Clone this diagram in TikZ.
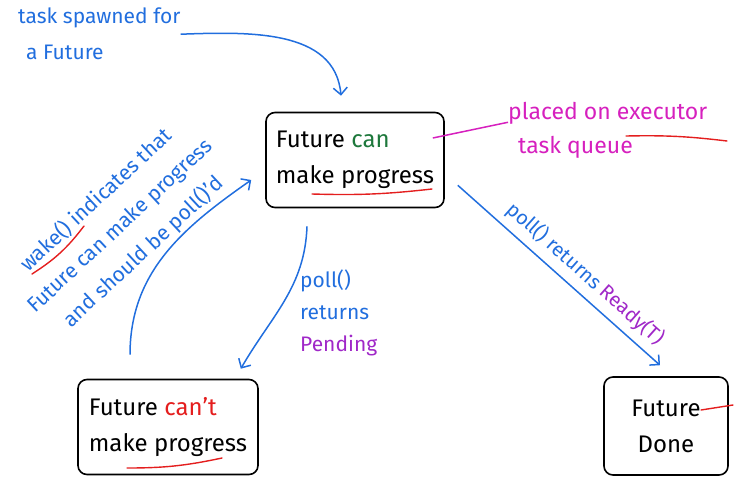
\documentclass[tikz,border=0pt]{standalone}
\usepackage{fontspec}
\setmainfont{Fira Sans}
\usetikzlibrary{positioning,arrows.meta,calc}
\definecolor{penblue}{RGB}{33,110,222}
\definecolor{penpink}{RGB}{214,32,190}
\definecolor{penpurple}{RGB}{160,40,200}
\definecolor{pengreen}{RGB}{30,120,60}
\definecolor{penred}{RGB}{228,30,30}

\begin{document}
\begin{tikzpicture}[x=1pt,y=-1pt]
          \tikzset{StateBox/.style={draw=black, line width=1.6pt, rounded corners=9pt, align=left, inner sep=0pt, font=\fontsize{24}{36}\selectfont}}
          \tikzset{Note/.style={text=penblue, align=left, inner sep=0pt, font=\fontsize{21}{35}\selectfont}}
          \tikzset{PenArrow/.style={draw=penblue, line width=1.5pt, -{Straight Barb[length=7pt,width=14pt]}}}
          \tikzset{RedMark/.style={draw=penred, line width=1.4pt, line cap=round}}

          \useasboundingbox (0,0) rectangle (752,488);

          \node[StateBox, minimum width=178pt, minimum height=95pt] (can) at (355,160) {Future \textcolor{pengreen}{can}\\make progress};
          \node[StateBox, minimum width=180pt, minimum height=95pt] (cant) at (168,427) {Future \textcolor{penred}{can't}\\make progress};
          \node[StateBox, align=center, minimum width=124pt, minimum height=98pt] (done) at (666,426) {Future\\Done};

          \node[Note, anchor=north west, font=\fontsize{21}{36}\selectfont] (spawn) at (18,8) {task spawned for\\\hspace*{8pt}a Future};
          \node[Note, text=penpink, anchor=north west, font=\fontsize{23}{34}\selectfont] (queue) at (508,102) {placed on executor\\\hspace*{10pt}task queue};
          \node[Note, rotate=43, align=center] (wake) at (120,226) {wake() indicates that\\Future can make progress\\and should be poll()'d};
          \node[Note, anchor=west, font=\fontsize{21}{32}\selectfont] (pend) at (300,313) {poll()\\returns\\\textcolor{penpurple}{Pending}};

          \draw[PenArrow] (spawn.east) to[out=2, in=95] ([xshift=-14pt, yshift=16pt]can.north);
          \draw[PenArrow] ([xshift=-48pt, yshift=-18pt]can.south) to[out=-92, in=60] ([xshift=-18pt, yshift=10pt]cant.north east);
          \draw[PenArrow] ([xshift=-38pt, yshift=24pt]cant.north) to[out=90, in=215] ([xshift=-14pt, yshift=-20pt]can.west);
          \draw[PenArrow] ([xshift=13pt, yshift=23pt]can.south east) -- node[pos=0.57, sloped, above=4pt, font=\fontsize{20}{22}\selectfont, text=penblue] {poll() returns \textcolor{penpurple}{Ready(T)}} ([xshift=-6pt, yshift=11pt]done.north);
          \draw[draw=penpink, line width=1.5pt] ([xshift=-12pt, yshift=22pt]can.east) -- ([yshift=8pt]queue.west);

          \draw[RedMark] (312,194) to[bend right=4] (432,189);
          \draw[RedMark] (127,468) to[bend right=6] (222,458);
          \draw[RedMark] (626,136) to[bend left=4] (727,141);
          \draw[RedMark] (32,274) to[bend right=10] (84,226);
          \draw[RedMark] (701,410) -- (733,405);
        \end{tikzpicture}
\end{document}
